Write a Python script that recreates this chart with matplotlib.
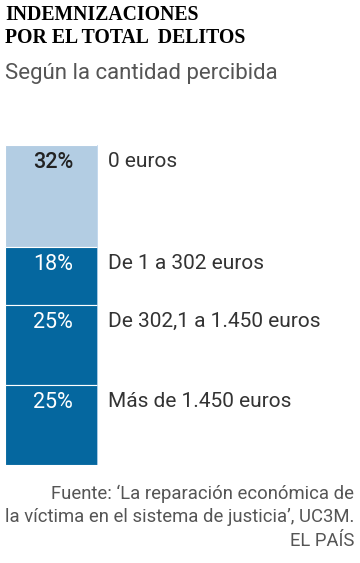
import matplotlib.pyplot as plt

# Datos
categorias = ['0 euros', 'De 1 a 302 euros', 'De 302,1 a 1.450 euros', 'Más de 1.450 euros']
porcentajes = [32, 18, 25, 25]
colores = ['#b3cde3', '#05679f', '#05679f', '#05679f']
colores_texto = ['#222222', 'white', 'white', 'white']

titulo = 'INDEMNIZACIONES\nPOR EL TOTAL  DELITOS'
subtitulo = 'Según la cantidad percibida'
fuente = ['Fuente: \u2018La reparación económica de',
          'la víctima en el sistema de justicia\u2019, UC3M.',
          'EL PAÍS']

W, H = 360, 563
fig = plt.figure(figsize=(W / 100, H / 100), dpi=100)

# Ejes de la barra apilada (en píxeles de la figura)
bar_left, bar_right, bar_top, bar_bottom = 5, 98, 145, 465
ax = fig.add_axes([bar_left / W, 1 - bar_bottom / H,
                   (bar_right - bar_left) / W, (bar_bottom - bar_top) / H])
ax.set_xlim(0, 1)
ax.set_ylim(sum(porcentajes), 0)
ax.axis('off')

base = 0
for cat, val, col, tcol in zip(categorias, porcentajes, colores, colores_texto):
    ax.bar(0.5, val, width=1, bottom=base, color=col, edgecolor='white', linewidth=0.8)
    peso = 'medium' if tcol != 'white' else 'normal'
    ax.text(0.52, base + 2.2, f'{val}%', ha='center', va='top',
            fontsize=15.5, color=tcol, family='Roboto', fontweight=peso)
    ax.annotate(cat, xy=(1, base + 2.2), xycoords='data',
                xytext=(7, 0), textcoords='offset points',
                ha='left', va='top', fontsize=15, color='#333333',
                family='Roboto', annotation_clip=False)
    base += val
ax.axvline(1, color='#c6dbef', linewidth=1.2)

# Títulos
fig.text(5 / W, 1 - 5 / H, titulo, ha='left', va='top', fontsize=14.2,
         fontweight='bold', family='Liberation Serif', color='#000000',
         linespacing=1.18)
fig.text(5 / W, 1 - 63 / H, subtitulo, ha='left', va='top', fontsize=16,
         family='Roboto', color='#555555')

# Fuente
for i, linea in enumerate(fuente):
    fig.text(354 / W, 1 - (485 + i * 23.5) / H, linea, ha='right', va='top',
             fontsize=13.3, family='Roboto', color='#555555')

fig.savefig('out.png', dpi=100)
